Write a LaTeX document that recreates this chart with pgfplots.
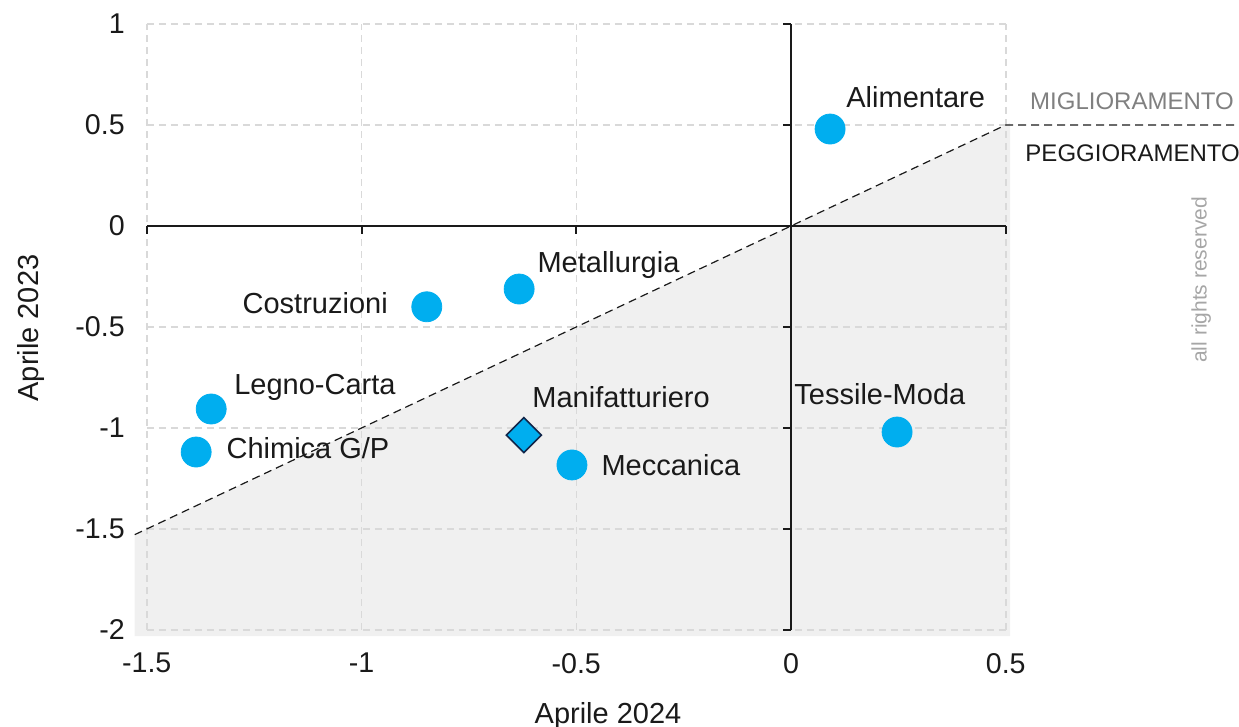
\documentclass[border=0pt]{standalone}
\usepackage{pgfplots}
\pgfplotsset{compat=1.18}
\usepackage{fontspec}
\setmainfont{Liberation Sans}
\definecolor{pt}{HTML}{00AEEF}
\definecolor{gridc}{HTML}{D9D9D9}
\definecolor{shade}{HTML}{F0F0F0}
\definecolor{navy}{HTML}{12264A}
\definecolor{txt}{HTML}{1A1A1A}
\begin{document}
\begin{tikzpicture}
\begin{axis}[
  set layers,
  scale only axis, width=429.5pt, height=303pt,
  xmin=-1.5, xmax=0.5, ymin=-2, ymax=1,
  clip=false,
  axis line style={draw=none},
  major tick length=0pt,
  xtick={-1.5,-1,-0.5,0,0.5}, ytick={-2,-1.5,-1,-0.5,0,0.5,1},
  grid=major,
  major grid style={gridc, line width=0.75pt, dash pattern=on 3.5pt off 2.5pt},
  /pgf/number format/assume math mode=true,
  ticklabel style={font=\fontsize{14.3}{16}\selectfont, text=txt},
  xticklabel style={yshift=-8pt},
  yticklabel style={xshift=-7.5pt},
]
\addplot[on layer=axis background, fill=shade, draw=none] coordinates {(-1.528,-1.528) (0.51,0.51) (0.51,-2.03) (-1.528,-2.03) (-1.528,-1.528)};
% axes cross
\draw[line width=1pt, txt] (axis cs:-1.5,0) -- (axis cs:0.5,0);
\draw[line width=1pt, txt] (axis cs:0,1) -- (axis cs:0,-2);
\draw[line width=1pt, txt] (axis cs:-1.5,0) -- (axis cs:-1.5,-0.04);
\draw[line width=1pt, txt] (axis cs:-1,0) -- (axis cs:-1,-0.04);
\draw[line width=1pt, txt] (axis cs:-0.5,0) -- (axis cs:-0.5,-0.04);
\draw[line width=1pt, txt] (axis cs:0.5,0) -- (axis cs:0.5,-0.04);
\draw[line width=1pt, txt] (axis cs:0,1) -- (axis cs:-0.019,1);
\draw[line width=1pt, txt] (axis cs:0,0.5) -- (axis cs:-0.019,0.5);
\draw[line width=1pt, txt] (axis cs:0,-0.5) -- (axis cs:-0.019,-0.5);
\draw[line width=1pt, txt] (axis cs:0,-1) -- (axis cs:-0.019,-1);
\draw[line width=1pt, txt] (axis cs:0,-1.5) -- (axis cs:-0.019,-1.5);
\draw[line width=1pt, txt] (axis cs:0,-2) -- (axis cs:-0.019,-2);
% diagonal
\addplot[txt, line width=0.6pt, dash pattern=on 4pt off 2.5pt] coordinates {(-1.528,-1.528) (0.5,0.5) (1.0431,0.5)};
% points
\addplot[only marks, mark=*, mark size=7.5pt, color=pt, mark options={fill=pt, draw=none}] coordinates {
(0.091,0.480) (-0.633,-0.312) (-0.848,-0.400) (-1.350,-0.906) (-1.385,-1.119) (-0.510,-1.183) (0.247,-1.020)};
\addplot[only marks, mark=square*, mark size=6.2pt, mark options={rotate=45, fill=pt, draw=navy, line width=0.8pt}] coordinates {(-0.622,-1.035)};
% labels
\begin{scope}[every node/.style={inner sep=0pt, font=\fontsize{14.5}{16}\selectfont, text=txt}]
\node[anchor=west] at (axis cs:0.128,0.639) {Alimentare};
\node[anchor=west] at (axis cs:-0.591,-0.193) {Metallurgia};
\node[anchor=east] at (axis cs:-0.938,-0.381) {Costruzioni};
\node[anchor=west] at (axis cs:-1.297,-0.797) {Legno-Carta};
\node[anchor=west] at (axis cs:-1.315,-1.099) {Chimica G/P};
\node[anchor=west] at (axis cs:-0.603,-0.847) {Manifatturiero};
\node[anchor=west] at (axis cs:-0.442,-1.183) {Meccanica};
\node[anchor=west] at (axis cs:0.007,-0.832) {Tessile-Moda};
\node[anchor=center] at (axis cs:-0.426,-2.425) {Aprile 2024};
\node[anchor=center, rotate=90] at (axis cs:-1.770,-0.505) {Aprile 2023};
\end{scope}
\node[anchor=west, inner sep=0pt, font=\fontsize{12}{14}\selectfont, text=gray] at (axis cs:0.556,0.619) {MIGLIORAMENTO};
\node[anchor=west, inner sep=0pt, font=\fontsize{12}{14}\selectfont, text=txt] at (axis cs:0.545,0.361) {PEGGIORAMENTO};
\node[anchor=center, rotate=90, inner sep=0pt, font=\fontsize{10.5}{12}\selectfont, text=black!35] at (axis cs:0.955,-0.267) {all rights reserved};
\coordinate (bl) at (axis cs:-1.8417,-2.4802);
\coordinate (tr) at (axis cs:1.0431,1.1188);
\end{axis}
\pgfresetboundingbox
\path[use as bounding box] (bl) rectangle (tr);
\end{tikzpicture}
\end{document}
